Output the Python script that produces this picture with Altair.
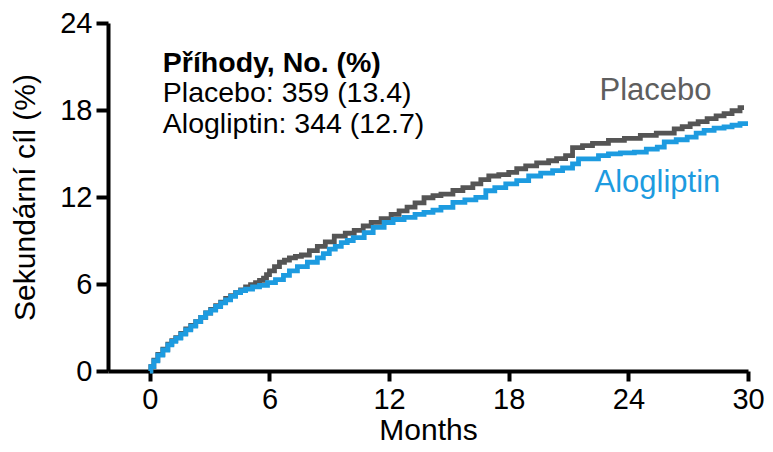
import altair as alt
import pandas as pd

# ---- data ----
placebo_months = [0, 0.05, 0.2, 0.4, 0.65, 0.9, 1.1, 1.3, 1.55, 1.8, 2.05, 2.3, 2.55, 2.8,
                  3.05, 3.3, 3.55, 3.8, 4.05, 4.3, 4.55, 4.8, 5.05, 5.3, 5.5, 5.7, 5.85, 6.0,
                  6.25, 6.5, 6.75, 7.0, 7.3, 7.6, 8.0, 8.4, 8.8, 9.25, 9.8, 10.25, 10.7, 11.1,
                  11.6, 12.1, 12.5, 12.9, 13.3, 13.75, 14.2, 14.6, 15.2, 15.7, 16.2, 16.6,
                  17.0, 17.5, 18.0, 18.4, 18.85, 19.4, 20.0, 20.4, 20.85, 21.2, 21.7, 22.2,
                  23.0, 23.8, 24.6, 25.4, 26.3, 26.7, 27.1, 27.5, 27.95, 28.4, 28.8, 29.2,
                  29.6, 29.8]
placebo_values = [0, 0.3, 0.75, 1.15, 1.5, 1.85, 2.1, 2.3, 2.6, 2.9, 3.15, 3.4, 3.7, 4.0,
                  4.25, 4.5, 4.75, 5.0, 5.2, 5.4, 5.6, 5.8, 5.95, 6.1, 6.25, 6.4, 6.65, 6.9,
                  7.2, 7.5, 7.65, 7.8, 7.9, 8.0, 8.3, 8.6, 8.9, 9.3, 9.5, 9.7, 10.0, 10.25,
                  10.5, 10.8, 11.05, 11.3, 11.6, 11.95, 12.1, 12.2, 12.45, 12.65, 12.9, 13.2,
                  13.45, 13.55, 13.7, 13.95, 14.15, 14.35, 14.5, 14.65, 14.85, 15.4, 15.55, 15.7,
                  15.9, 16.05, 16.25, 16.4, 16.7, 16.85, 17.05, 17.2, 17.4, 17.6, 17.75, 17.95,
                  18.17, 18.17]

alog_months = [0, 0.05, 0.2, 0.4, 0.65, 0.9, 1.1, 1.3, 1.55, 1.8, 2.05, 2.3, 2.55, 2.8,
               3.05, 3.3, 3.55, 3.8, 4.05, 4.3, 4.55, 4.8, 5.15, 5.5, 5.9, 6.3, 6.7, 7.0,
               7.4, 7.9, 8.4, 8.7, 9.0, 9.3, 9.6, 9.9, 10.2, 10.75, 11.2, 11.75, 12.2, 12.75,
               13.3, 13.75, 14.2, 14.6, 15.2, 15.8, 16.35, 16.85, 17.3, 17.85, 18.4, 19.0,
               19.6, 20.2, 20.7, 21.2, 21.5, 22.5, 23.0, 23.6, 24.3, 24.9, 25.45, 25.8,
               26.4, 26.95, 27.4, 27.8, 28.3, 28.8, 29.2, 29.6, 30.0]
alog_values = [0, 0.3, 0.7, 1.1, 1.45, 1.8, 2.05, 2.27, 2.55, 2.84, 3.1, 3.4, 3.7, 4.0,
               4.2, 4.45, 4.7, 4.9, 5.15, 5.4, 5.55, 5.65, 5.8, 5.9, 6.1, 6.3, 6.6, 6.9,
               7.2, 7.5, 7.8, 8.1, 8.4, 8.6, 8.85, 9.0, 9.2, 9.55, 9.9, 10.24, 10.45, 10.6,
               10.8, 10.94, 11.1, 11.28, 11.63, 11.8, 11.97, 12.43, 12.65, 12.9, 13.13, 13.45,
               13.65, 13.82, 14.0, 14.29, 14.63, 14.86, 14.98, 15.05, 15.1, 15.3, 15.44, 15.8,
               15.95, 16.13, 16.4, 16.6, 16.75, 16.83, 16.95, 17.06, 17.06]

x_ticks = [0, 6, 12, 18, 24, 30]
y_ticks = [0, 6, 12, 18, 24]

note_title = "Příhody, No. (%)"
note_lines = ["Placebo: 359 (13.4)", "Alogliptin: 344 (12.7)"]
series_names = ["Placebo", "Alogliptin"]
series_colors = ["#555555", "#1d9be0"]
label_colors = ["#5e5e5e", "#1d9be0"]

FONT = "Liberation Sans"

placebo_df = pd.DataFrame({"month": placebo_months, "value": placebo_values})
alog_df = pd.DataFrame({"month": alog_months, "value": alog_values})

x_enc = alt.X("month:Q",
              scale=alt.Scale(domain=[-2.1, 30], nice=False, zero=False),
              axis=alt.Axis(values=x_ticks, title="Months", labelPadding=4,
                            titlePadding=1, format="d", labelFlush=False))
y_enc = alt.Y("value:Q",
              scale=alt.Scale(domain=[0, 24], nice=False),
              axis=alt.Axis(values=y_ticks, title="Sekundární cíl (%)", labelPadding=4,
                            tickSize=12, titlePadding=19, format="d", labelFlush=False))

placebo_line = alt.Chart(placebo_df).mark_line(
    interpolate="step-after", strokeWidth=4.8, color=series_colors[0], strokeJoin="miter"
).encode(x=x_enc, y=y_enc)

alog_line = alt.Chart(alog_df).mark_line(
    interpolate="step-after", strokeWidth=4.8, color=series_colors[1], strokeJoin="miter"
).encode(x="month:Q", y="value:Q")

note_df = pd.DataFrame({"month": [0.65], "value": [20.62], "text": [note_title]})
note_bold = alt.Chart(note_df).mark_text(
    align="left", baseline="alphabetic", font=FONT, fontSize=28.5, fontWeight="bold", color="black"
).encode(x="month:Q", y="value:Q", text="text:N")

lines_df = pd.DataFrame({"month": [0.65, 0.65], "value": [18.55, 16.41], "text": note_lines})
note_text = alt.Chart(lines_df).mark_text(
    align="left", baseline="alphabetic", font=FONT, fontSize=28.5, color="black"
).encode(x="month:Q", y="value:Q", text="text:N")

lab_p = alt.Chart(pd.DataFrame({"month": [22.55], "value": [18.69], "text": [series_names[0]]})).mark_text(
    align="left", baseline="alphabetic", font=FONT, fontSize=31, color=label_colors[0]
).encode(x="month:Q", y="value:Q", text="text:N")

lab_a = alt.Chart(pd.DataFrame({"month": [22.3], "value": [12.34], "text": [series_names[1]]})).mark_text(
    align="left", baseline="alphabetic", font=FONT, fontSize=31, color=label_colors[1]
).encode(x="month:Q", y="value:Q", text="text:N")

chart = alt.layer(placebo_line, alog_line, note_bold, note_text, lab_p, lab_a).properties(
    width=640, height=348,
    padding={"left": 100, "top": 15, "right": 17, "bottom": 73},
    autosize=alt.AutoSizeParams(type="none"),
).configure_view(stroke=None).configure_axis(
    grid=False,
    domainColor="black", domainWidth=4,
    tickColor="black", tickWidth=4, tickSize=10,
    labelFont=FONT, labelFontSize=29, labelColor="black",
    titleFont=FONT, titleFontSize=30, titleFontWeight="normal", titleColor="black",
)

chart.save("out.html", embed_options={"renderer": "svg", "actions": False})
